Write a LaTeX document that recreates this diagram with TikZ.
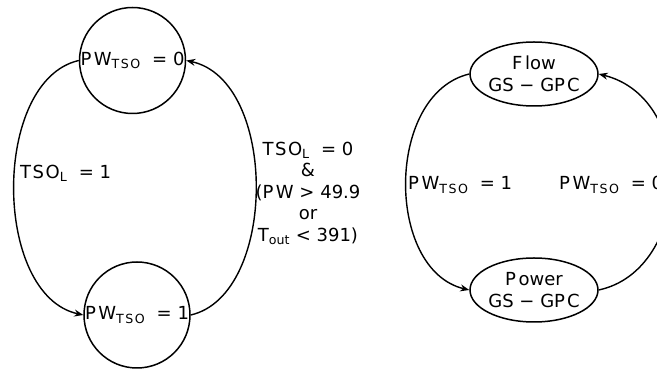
\documentclass[tikz,border=0pt]{standalone}
\usepackage{fontspec}
\setmainfont{DejaVu Sans}
\usetikzlibrary{arrows.meta,shapes.geometric}
\newcommand\tsoword{T\kern1.5pt S\kern1.5pt O}
\newcommand\pwtso{P\kern2.5pt W\textsubscript{\tsoword}}
\begin{document}
\begin{tikzpicture}[x=1pt,y=1pt,
  font=\fontsize{18}{21.5}\selectfont,
  statenode/.style={circle, draw, line width=1.5pt, minimum size=106pt, inner sep=-8pt},
  modenode/.style={ellipse, draw, line width=1.5pt, minimum width=128pt, minimum height=64pt,
    inner xsep=-8pt, inner ysep=-3pt, align=center},
  conn/.style={line width=1.4pt, -{Stealth[length=9pt,width=7pt]}},
  lbl/.style={inner sep=0pt}]
\clip (0,0) rectangle (657,369);
% left automaton
\node[statenode] (c0) at (132.5,308.5) {\pwtso\ \ =\ 0};
\node[statenode] (c1) at (137,54) {\pwtso\ \ =\ 1};
\draw[conn] (c0.west) .. controls +(-87,-20) and +(-91,20) .. (c1.west);
\draw[conn] (c1.east) .. controls +(87,20) and +(92,-20) .. (c0.east);
\node[lbl, anchor=west] (l0) at (20,196) {\tsoword\textsubscript{L}\ \ =\ 1};
\node[lbl, align=center] (l1) at (308,176)
  {\tsoword\textsubscript{L}\ \ =\ 0\\ \&\\ (P\kern2.5pt W\ >\ 49.9\\ or\\ T\textsubscript{out}\ <\ 391)};
% right automaton
\node[modenode] (f) at (534,295) {F\kern2.5pt low\\ GS − GP\kern2pt C};
\node[modenode] (p) at (534,79) {P\kern2.5pt ower\\ GS − GP\kern2pt C};
\draw[conn] (f.west) .. controls +(-84,-20) and +(-84,20) .. (p.west);
\draw[conn] (p.east) .. controls +(93,20) and +(100,-25) .. (f.east);
\node[lbl, anchor=west] (l2) at (408,184) {\pwtso\ \ =\ 1};
\node[lbl, anchor=west] (l3) at (559,184) {\pwtso\ \ =\ 0};
\end{tikzpicture}
\end{document}
